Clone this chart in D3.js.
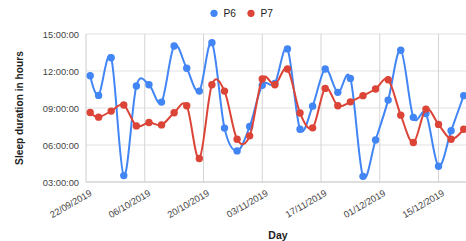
<!DOCTYPE html>
<html>
<head>
<meta charset="utf-8">
<script src="https://cdn.jsdelivr.net/npm/d3@7"></script>
<style>
  body { margin: 0; background: #fff; }
  svg { display: block; font-family: Arial, "Liberation Sans", sans-serif; }
  .axis-y text, .axis-x text { fill: #444; font-size: 9.3px; }
  .title { font-weight: bold; fill: #222; }
</style>
</head>
<body>
<svg id="chart" width="466" height="241"></svg>
<script>
// data, sleep duration in decimal hours
const days = ['23/09/2019', '25/09/2019', '28/09/2019', '01/10/2019', '04/10/2019', '07/10/2019',
  '10/10/2019', '13/10/2019', '16/10/2019', '19/10/2019', '22/10/2019', '25/10/2019', '28/10/2019',
  '31/10/2019', '03/11/2019', '06/11/2019', '09/11/2019', '12/11/2019', '15/11/2019', '18/11/2019',
  '21/11/2019', '24/11/2019', '27/11/2019', '30/11/2019', '03/12/2019', '06/12/2019', '09/12/2019',
  '12/12/2019', '15/12/2019', '18/12/2019', '21/12/2019'];
const p6 = [11.62, 10.02, 13.08, 3.52, 10.78, 10.89, 9.48, 14.03, 12.22, 10.37, 14.3, 7.37, 5.52,
  7.5, 10.84, 11.0, 13.79, 7.28, 9.15, 12.16, 10.27, 11.4, 3.46, 6.41, 9.64, 13.68, 8.24, 8.55,
  4.28, 7.15, 10.0];
const p7 = [8.64, 8.26, 8.75, 9.24, 7.55, 7.83, 7.63, 8.61, 9.18, 4.9, 10.89, 10.37, 6.47, 6.74,
  11.35, 10.89, 12.16, 8.59, 7.39, 10.59, 9.18, 9.5, 10.0, 10.54, 11.29, 8.42, 6.2, 8.91, 7.67,
  6.47, 7.28];
const seriesNames = ['P6', 'P7'];
const colors = ['#4285f4', '#db4437'];
const xTicks = ['22/09/2019', '06/10/2019', '20/10/2019', '03/11/2019', '17/11/2019', '01/12/2019', '15/12/2019'];
const yTicks = [3, 6, 9, 12, 15];
const xStart = '22/09/2019';
const xEnd = '22/12/2019 12';

const parse = s => {
  const [d, m, rest] = s.split('/');
  const [y, h] = rest.split(' ');
  return new Date(Date.UTC(+y, +m - 1, +d, h ? +h : 0));
};

const svg = d3.select('#chart');
const margin = { left: 86, right: -4, top: 34, bottom: 59 };
const W = 466, H = 241;

const x = d3.scaleUtc()
  .domain([parse(xStart), parse(xEnd)])
  .range([margin.left, W - margin.right]);
const y = d3.scaleLinear()
  .domain([3, 15])
  .range([H - margin.bottom, margin.top]);

const pad = n => String(n).padStart(2, '0');

// horizontal grid
svg.append('g').attr('class', 'grid-y')
  .selectAll('line').data(yTicks).join('line')
  .attr('x1', margin.left).attr('x2', W)
  .attr('y1', d => y(d)).attr('y2', d => y(d))
  .attr('stroke', '#ebebeb').attr('stroke-width', 1.6);

// vertical grid
svg.append('g').attr('class', 'grid-x')
  .selectAll('line').data(xTicks.slice(1)).join('line')
  .attr('x1', d => x(parse(d))).attr('x2', d => x(parse(d)))
  .attr('y1', y(15)).attr('y2', y(3))
  .attr('stroke', '#d4d4d4').attr('stroke-width', 1);

// baselines
svg.append('line')
  .attr('x1', margin.left).attr('x2', W).attr('y1', y(3)).attr('y2', y(3))
  .attr('stroke', '#ccc');
svg.append('line')
  .attr('x1', margin.left).attr('x2', margin.left).attr('y1', y(15)).attr('y2', y(3))
  .attr('stroke', '#ccc');

// y axis labels
const axisY = d3.axisLeft(y).tickValues(yTicks).tickSize(0).tickPadding(7)
  .tickFormat(d => `${pad(d)}:00:00`);
svg.append('g').attr('class', 'axis-y')
  .attr('transform', `translate(${margin.left},0)`)
  .call(axisY)
  .call(g => g.select('.domain').remove())
  .selectAll('text').attr('dy', '0.36em');

// x axis labels, rotated
const axisX = d3.axisBottom(x).tickValues(xTicks.map(parse)).tickSize(0)
  .tickFormat(d3.utcFormat('%d/%m/%Y'));
svg.append('g').attr('class', 'axis-x')
  .attr('transform', `translate(0,${y(3)})`)
  .call(axisX)
  .call(g => g.select('.domain').remove())
  .selectAll('text')
  .attr('y', 0).attr('dy', 0)
  .attr('text-anchor', 'end')
  .attr('transform', 'translate(6,13) rotate(-30)');

// lines and points
const line = d3.line()
  .x((d, i) => x(parse(days[i])))
  .y(d => y(d))
  .curve(d3.curveCardinal.tension(0));

[p6, p7].forEach((vals, k) => {
  const g = svg.append('g').attr('class', `series-${seriesNames[k]}`);
  g.append('path')
    .attr('d', line(vals))
    .attr('fill', 'none')
    .attr('stroke', colors[k])
    .attr('stroke-width', 2);
  g.selectAll('circle').data(vals).join('circle')
    .attr('cx', (d, i) => x(parse(days[i])))
    .attr('cy', d => y(d))
    .attr('r', 3.7)
    .attr('fill', colors[k]);
});

// legend
const legendX = [214, 251];
const legend = svg.append('g').attr('class', 'legend');
seriesNames.forEach((name, k) => {
  legend.append('circle').attr('cx', legendX[k]).attr('cy', 13.3).attr('r', 3.6).attr('fill', colors[k]);
  legend.append('text').attr('x', legendX[k] + 9.5).attr('y', 17)
    .attr('font-size', '10.2px').attr('fill', '#222').text(name);
});

// titles
svg.append('text').attr('class', 'title')
  .attr('transform', `translate(23,${(y(3) + y(15)) / 2}) rotate(-90)`)
  .attr('text-anchor', 'middle').attr('font-size', '10.2px')
  .text('Sleep duration in hours');
svg.append('text').attr('class', 'title')
  .attr('x', (margin.left + W - margin.right) / 2).attr('y', 238.5)
  .attr('text-anchor', 'middle').attr('font-size', '10.5px')
  .text('Day');
</script>
</body>
</html>
